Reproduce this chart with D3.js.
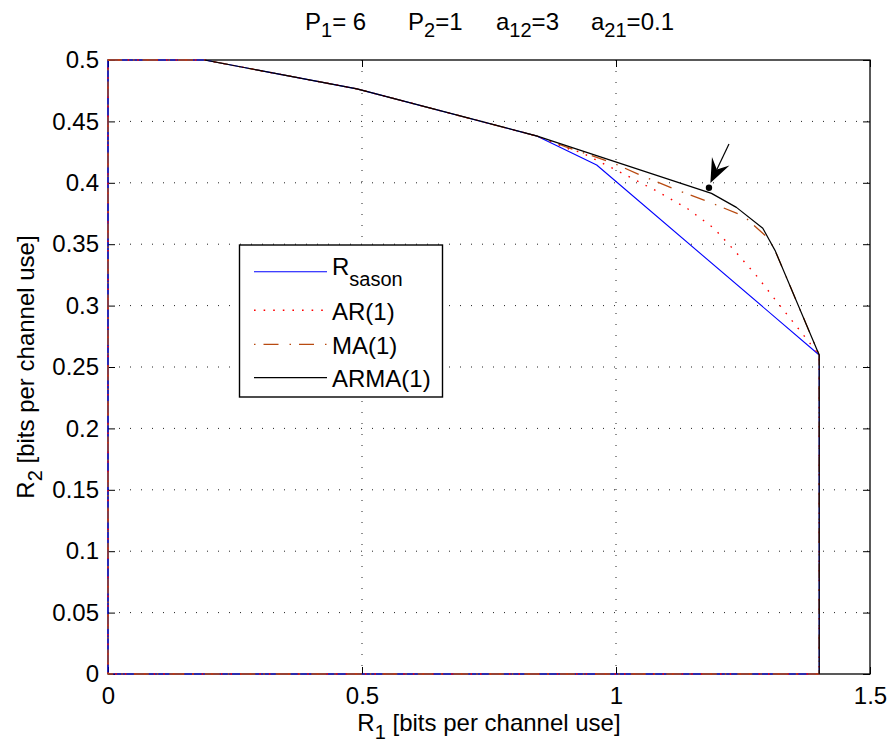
<!DOCTYPE html>
<html><head><meta charset="utf-8">
<script src="https://cdn.jsdelivr.net/npm/d3@7"></script>
<style>body{margin:0;background:#fff}svg{display:block}text{font-family:"Liberation Sans",Arial,sans-serif;fill:#000}</style>
</head><body>
<svg id="c" width="890" height="742"></svg>
<script>
// ---- data ----
const xTicks = [0, 0.5, 1, 1.5];
const yTicks = [0, 0.05, 0.1, 0.15, 0.2, 0.25, 0.3, 0.35, 0.4, 0.45, 0.5];
const xTickLabels = ["0", "0.5", "1", "1.5"];
const yTickLabels = ["0", "0.05", "0.1", "0.15", "0.2", "0.25", "0.3", "0.35", "0.4", "0.45", "0.5"];
const seriesNames = ["sason", "AR(1)", "MA(1)", "ARMA(1)"];
const sasonR1 = [0, 0, 0.19, 0.49, 0.845, 0.962, 1.40, 1.40, 0];
const sasonR2 = [0, 0.5, 0.5, 0.4765, 0.438, 0.4145, 0.2598, 0, 0];
const arR1 = [0, 0, 0.19, 0.49, 0.845, 0.909, 0.932, 0.970, 1.028, 1.085, 1.141, 1.193, 1.237, 1.278, 1.318, 1.358, 1.40, 1.40, 0];
const arR2 = [0, 0.5, 0.5, 0.4765, 0.438, 0.4273, 0.4246, 0.4167, 0.4045, 0.3922, 0.3789, 0.3629, 0.3431, 0.3236, 0.3024, 0.2818, 0.2598, 0, 0];
const maR1 = [0, 0, 0.19, 0.49, 0.845, 0.90, 0.995, 1.055, 1.121, 1.185, 1.251, 1.300, 1.313, 1.40, 1.40, 0];
const maR2 = [0, 0.5, 0.5, 0.4765, 0.438, 0.4295, 0.416, 0.405, 0.394, 0.384, 0.373, 0.3548, 0.345, 0.2598, 0, 0];
const armaR1 = [0.19, 0.49, 0.845, 1.188, 1.237, 1.289, 1.313, 1.40, 1.40];
const armaR2 = [0.5, 0.4765, 0.438, 0.3914, 0.380, 0.363, 0.345, 0.2598, 0];
const markPoint = [1.183, 0.396];
const arrowFrom = [1.2224, 0.4316];
const arrowTo = [1.1858, 0.3999];
const titleParts = [["P","1","= 6"],["P","2","=1"],["a","12","=3"],["a","21","=0.1"]];

// ---- layout ----
const L = 108, R = 870, T = 60, B = 674;
const svg = d3.select("#c");
const x = d3.scaleLinear().domain([0, 1.5]).range([L, R]);
const y = d3.scaleLinear().domain([0, 0.5]).range([B, T]);
const FS = 24, SUB = 20;

// grid
const g = svg.append("g");
g.selectAll(".gx").data(xTicks.slice(1, -1)).join("line")
  .attr("x1", d => x(d)).attr("x2", d => x(d)).attr("y1", T).attr("y2", B)
  .attr("stroke", "#222").attr("stroke-width", 1).attr("stroke-dasharray", "1,10");
g.selectAll(".gy").data(yTicks.slice(1, -1)).join("line")
  .attr("y1", d => y(d)).attr("y2", d => y(d)).attr("x1", L).attr("x2", R)
  .attr("stroke", "#222").attr("stroke-width", 1).attr("stroke-dasharray", "1,10");

// axes with inward ticks
const TL = 7;
const axB = svg.append("g").attr("transform", `translate(0,${B})`)
  .call(d3.axisBottom(x).tickValues(xTicks).tickFormat((d, i) => xTickLabels[i]).tickSizeInner(-TL).tickSizeOuter(0).tickPadding(20));
const axT = svg.append("g").attr("transform", `translate(0,${T})`)
  .call(d3.axisTop(x).tickValues(xTicks).tickFormat("").tickSizeInner(-TL).tickSizeOuter(0));
const axL = svg.append("g").attr("transform", `translate(${L},0)`)
  .call(d3.axisLeft(y).tickValues(yTicks).tickFormat((d, i) => yTickLabels[i]).tickSizeInner(-TL).tickSizeOuter(0).tickPadding(9));
const axR = svg.append("g").attr("transform", `translate(${R},0)`)
  .call(d3.axisRight(y).tickValues(yTicks).tickFormat("").tickSizeInner(-TL).tickSizeOuter(0));
[axB, axT, axL, axR].forEach(a => {
  a.select(".domain").remove();
  a.selectAll("line").attr("stroke", "#000");
  a.selectAll("text").attr("font-size", FS).attr("font-family", "Liberation Sans, Arial, sans-serif").attr("fill", "#000");
});
axB.selectAll("text").attr("dy", null).attr("y", 30);
svg.append("rect").attr("x", L).attr("y", T).attr("width", R - L).attr("height", B - T)
  .attr("fill", "none").attr("stroke", "#000").attr("stroke-width", 1.3);

// curves
const line = d3.line().x(d => x(d[0])).y(d => y(d[1]));
const zip = (a, b) => a.map((v, i) => [v, b[i]]);
const styles = [
  {c: "#0000ff", dash: null, w: 1.1},
  {c: "#ff0000", dash: "1.6,8", w: 1.4},
  {c: "#b84a10", dash: "1.5,8,15,11", w: 1.3},
  {c: "#000000", dash: null, w: 1.2}
];
const allData = [zip(sasonR1, sasonR2), zip(arR1, arR2), zip(maR1, maR2), zip(armaR1, armaR2)];
allData.forEach((d, i) => {
  svg.append("path").attr("d", line(d)).attr("fill", "none")
    .attr("stroke", styles[i].c).attr("stroke-width", styles[i].w)
    .attr("stroke-dasharray", styles[i].dash).attr("stroke-linejoin", "round");
});

// marker + arrow
svg.append("circle").attr("cx", x(markPoint[0])).attr("cy", y(markPoint[1])).attr("r", 3.2).attr("fill", "#000");
{
  const x0 = x(arrowFrom[0]), y0 = y(arrowFrom[1]), x1 = x(arrowTo[0]), y1 = y(arrowTo[1]);
  const dx = x1 - x0, dy = y1 - y0, len = Math.hypot(dx, dy);
  const ux = dx / len, uy = dy / len, px = -uy, py = ux;
  const hl = 24, hw = 9.7, nb = 15;
  const pt = (a, b) => [x1 - ux * a + px * b, y1 - uy * a + py * b];
  svg.append("line").attr("x1", x0).attr("y1", y0).attr("x2", x1 - ux * nb).attr("y2", y1 - uy * nb)
    .attr("stroke", "#000").attr("stroke-width", 1.2);
  svg.append("path").attr("d", "M" + [[x1, y1], pt(hl, hw), pt(nb, 0), pt(hl, -hw)].map(p => p.join(",")).join("L") + "Z")
    .attr("fill", "#000");
}

// legend
const lg = svg.append("g");
lg.append("rect").attr("x", 239.5).attr("y", 245).attr("width", 203).attr("height", 152)
  .attr("fill", "#fff").attr("stroke", "#000").attr("stroke-width", 1.4);
const rowsY = [271.7, 310.3, 344.3, 377.7];
seriesNames.forEach((n, i) => {
  lg.append("line").attr("x1", 254).attr("x2", 327).attr("y1", rowsY[i]).attr("y2", rowsY[i])
    .attr("stroke", styles[i].c).attr("stroke-width", styles[i].w).attr("stroke-dasharray", styles[i].dash);
  const t = lg.append("text").attr("x", 332).attr("font-size", FS);
  if (i === 0) {
    t.attr("y", 275);
    t.append("tspan").text("R");
    t.append("tspan").attr("dy", 11).attr("font-size", SUB).text(n);
  } else {
    t.attr("y", rowsY[i] + 9.7).text(n);
  }
});

// title
const titleX = [305, 408, 496, 591];
titleParts.forEach((p, i) => {
  const t = svg.append("text").attr("x", titleX[i]).attr("y", 30).attr("font-size", FS);
  t.append("tspan").text(p[0]);
  t.append("tspan").attr("dy", 7).attr("font-size", SUB).text(p[1]);
  t.append("tspan").attr("dy", -7).text(p[2]);
});

// axis labels
const xl = svg.append("text").attr("x", (L + R) / 2).attr("y", 731).attr("text-anchor", "middle").attr("font-size", FS);
xl.append("tspan").text("R");
xl.append("tspan").attr("dy", 8).attr("font-size", SUB).text("1");
xl.append("tspan").attr("dy", -8).text(" [bits per channel use]");
const yl = svg.append("text").attr("transform", `translate(34,${(T + B) / 2}) rotate(-90)`).attr("text-anchor", "middle").attr("font-size", FS);
yl.append("tspan").text("R");
yl.append("tspan").attr("dy", 8).attr("font-size", SUB).text("2");
yl.append("tspan").attr("dy", -8).text(" [bits per channel use]");
</script>
</body></html>
